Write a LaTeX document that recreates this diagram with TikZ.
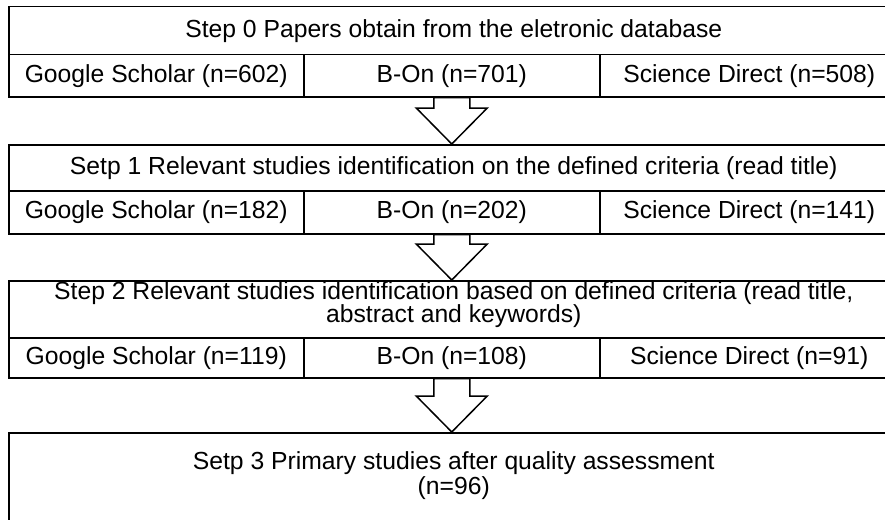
\documentclass[tikz,border=0pt]{standalone}
\usepackage{fontspec}
\setmainfont{Liberation Sans}
\usetikzlibrary{calc}
\begin{document}
\begin{tikzpicture}[x=1pt,y=-1pt,
  txt/.style={font=\fontsize{24.7}{28.4}\selectfont,inner sep=0pt},
  cell/.style={txt,draw,line width=1.5pt,rectangle,anchor=north west},
  hdr/.style={cell,minimum width=890pt},
  cA/.style={cell,minimum width=295pt},
  cB/.style={cell,minimum width=296pt},
  cC/.style={cell,minimum width=299pt},
  blockarrow/.style={draw,line width=1.5pt,fill=white,line join=miter}
]
\useasboundingbox[fill=white] (0,0) rectangle (885,519);

% Step 0
\node[hdr,minimum height=48pt] (h0) at (8,6) {Step 0 Papers obtain from the eletronic database};
\node[cA,minimum height=42pt] (g0) at (8,54) {Google Scholar (n=602)};
\node[cB,minimum height=42pt] (b0) at (303,54) {B-On (n=701)};
\node[cC,minimum height=42pt] (s0) at (599,54) {Science Direct (n=508)};

% Step 1
\node[hdr,minimum height=46pt] (h1) at (8,144) {Setp 1 Relevant studies identification on the defined criteria (read title)};
\node[cA,minimum height=43pt] (g1) at (8,190) {Google Scholar (n=182)};
\node[cB,minimum height=43pt] (b1) at (303,190) {B-On (n=202)};
\node[cC,minimum height=43pt] (s1) at (599,190) {Science Direct (n=141)};

% Step 2
\node[hdr,minimum height=57pt] (h2) at (8,280) {};
\node[txt] (h2a) at ($(h2.north)+(0,13)$) {Step 2 Relevant studies identification based on defined criteria (read title,};
\node[txt] (h2b) at ($(h2.north)+(0,36)$) {abstract and keywords)};
\node[cA,minimum height=40pt] (g2) at (8,337) {Google Scholar (n=119)};
\node[cB,minimum height=40pt] (b2) at (303,337) {B-On (n=108)};
\node[cC,minimum height=40pt] (s2) at (599,337) {Science Direct (n=91)};

% Step 3
\node[hdr,minimum height=110pt] (h3) at (8,432) {};
\node[txt] (h3a) at ($(h3.north)+(0,31)$) {Setp 3 Primary studies after quality assessment};
\node[txt] (h3b) at ($(h3.north)+(0,56)$) {(n=96)};

% block arrows
\foreach \a/\b in {b0/h1, b1/h2, b2/h3}{
  \draw[blockarrow]
    ($(\a.south)+(-18,0)$)
    -- ($(\a.south |- \b.north)+(-18,-36)$)
    -- ($(\a.south |- \b.north)+(-35.5,-36)$)
    -- (\a.south |- \b.north)
    -- ($(\a.south |- \b.north)+(35.5,-36)$)
    -- ($(\a.south |- \b.north)+(18,-36)$)
    -- ($(\a.south)+(18,0)$) -- cycle;
}
\end{tikzpicture}
\end{document}
